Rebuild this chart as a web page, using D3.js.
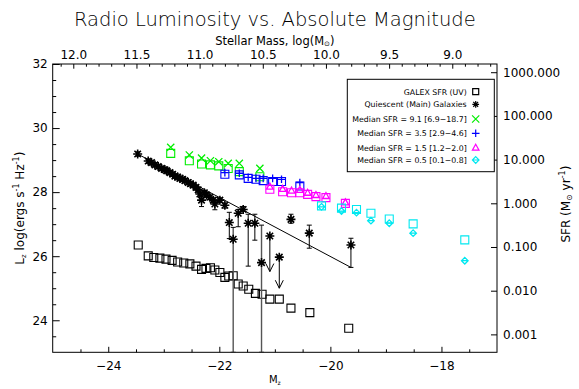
<!DOCTYPE html>
<html><head><meta charset="utf-8">
<script src="https://cdn.jsdelivr.net/npm/d3@7"></script>
<style>body{margin:0;background:#fff}svg{display:block}</style>
</head><body><svg id="c" width="579" height="389"></svg>
<script>
// ---------- data ----------
const xTicks = [-24, -22, -20, -18];
const yTicks = [24, 26, 28, 30, 32];
const massTicks = [12.0, 11.5, 11.0, 10.5, 10.0, 9.5, 9.0];
const sfrTicks = [1000, 100, 10, 1, 0.1, 0.01, 0.001];

// GALEX SFR (UV) - black open squares
const galexM = [-23.46,-23.28,-23.18,-23.07,-22.96,-22.85,-22.75,-22.64,-22.53,-22.42,-22.32,-22.24,-22.16,-22.08,-21.99,-21.90,-21.83,-21.75,-21.66,-21.57,-21.47,-21.35,-21.23,-21.09,-20.92,-20.71,-20.37,-19.67];
const galexL = [26.35,26.01,25.96,25.94,25.91,25.87,25.82,25.79,25.76,25.69,25.59,25.62,25.64,25.57,25.49,25.34,25.38,25.39,25.13,25.07,24.97,24.84,24.81,24.66,24.66,24.38,24.24,23.75];

// Quiescent (Main) galaxies - asterisks with error bars
const starM  = [-23.47,-23.28,-23.22,-23.16,-23.10,-23.04,-22.98,-22.95,-22.89,-22.84,-22.80,-22.75,-22.71,-22.66,-22.62,-22.56,-22.52,-22.47,-22.42,-22.38,-22.35,-22.32,-22.27,-22.23,-22.17,-22.11,-22.08,-21.99,-21.90,-21.82,-21.75,-21.66,-21.57,-21.48,-21.36,-21.24,-20.71,-20.38,-19.63];
const starL  = [29.19,28.97,28.92,28.85,28.80,28.74,28.70,28.67,28.61,28.56,28.50,28.47,28.43,28.40,28.36,28.30,28.26,28.22,28.15,28.07,27.94,27.75,27.98,27.91,27.84,27.75,27.63,27.75,27.59,27.05,26.53,27.34,27.46,27.03,27.03,25.80,27.15,26.72,26.35];
const starLo = [29.12,28.90,28.85,28.78,28.73,28.67,28.63,28.60,28.54,28.49,28.43,28.40,28.36,28.33,28.29,28.23,28.19,28.15,28.08,28.00,27.87,27.55,27.91,27.84,27.77,27.68,27.45,27.68,27.50,26.55,23.00,26.92,27.40,25.69,26.50,23.00,27.03,26.25,25.65];
const starHi = [29.26,29.04,28.99,28.92,28.87,28.81,28.77,28.74,28.68,28.63,28.57,28.54,28.50,28.47,28.43,28.37,28.33,28.29,28.22,28.14,28.01,27.85,28.05,27.98,27.91,27.82,27.70,27.82,27.66,27.37,26.90,27.46,27.55,27.31,27.31,26.97,27.31,26.97,26.56];

// upper limits (arrows)
const limM = [-21.09, -20.92];
const limL = [26.63, 25.97];
const limTo = [25.52, 25.00];

// fitted line
const fitM = [-23.47, -19.63];
const fitL = [29.19, 25.65];

// Median SFR groups: square (UV) and symbol (radio)
const greenM   = [-22.875,-22.54,-22.32,-22.16,-22.01,-21.84,-21.64,-21.27];
const greenSq  = [29.21,28.98,28.88,28.85,28.82,28.74,28.64,28.48];
const greenSym = [29.40,29.16,29.06,28.98,28.95,28.90,28.90,28.74];

const blueM   = [-21.90,-21.64,-21.48,-21.34,-21.21,-21.04,-20.88,-20.55];
const blueSq  = [28.56,28.54,28.43,28.40,28.36,28.33,28.33,28.19];
const blueSym = [28.61,28.59,28.46,28.43,28.43,28.43,28.40,28.30];

const magM   = [-21.09,-20.86,-20.70,-20.55,-20.41,-20.26,-20.08,-19.73];
const magSq  = [28.09,28.01,27.98,27.98,27.93,27.86,27.83,27.65];
const magSym = [28.17,28.10,28.05,28.07,27.98,27.91,27.88,27.68];

const cyanM   = [-20.16,-19.80,-19.53,-19.27,-18.94,-18.51,-17.58];
const cyanSq  = [27.57,27.50,27.46,27.34,27.16,27.01,26.51];
const cyanSym = [27.54,27.41,27.36,27.11,27.03,26.72,25.86];

const legendLabels = ["GALEX SFR (UV)", "Quiescent (Main) Galaxies", "Median SFR = 9.1 [6.9\u221218.7]", "Median SFR = 3.5 [2.9\u22124.6]", "Median SFR = 1.5 [1.2\u22122.0]", "Median SFR = 0.5 [0.1\u22120.8]"];
const legendSyms = ["square", "star", "x", "plus", "tri", "diamond"];
const legendColors = ["#000", "#000", "#00ee00", "#0000ff", "#ff00ff", "#00e8f0"];

// ---------- chart ----------
const svg = d3.select("#c");
const FONT = "'DejaVu Sans', sans-serif";
const L = 52.7, R = 497, T = 64, B = 352.3;
const x = d3.scaleLinear([-25, -17], [L, R]);
const y = d3.scaleLinear([23, 32], [B, T]);
const ySfr = d3.scaleLog([Math.pow(10, -3.41), Math.pow(10, 3.188)], [B, T]);
const xMass = d3.scaleLinear([12.163, 8.646], [L, R]);

function sym(type, cx, cy) {
  const p = d3.path();
  if (type === "square") { p.rect(cx - 4, cy - 4, 8, 8); }
  else if (type === "star") {
    const r = 4.5, d = r * 0.72;
    p.moveTo(cx - r, cy); p.lineTo(cx + r, cy);
    p.moveTo(cx, cy - r); p.lineTo(cx, cy + r);
    p.moveTo(cx - d, cy - d); p.lineTo(cx + d, cy + d);
    p.moveTo(cx - d, cy + d); p.lineTo(cx + d, cy - d);
  } else if (type === "x") {
    const r = 3.6;
    p.moveTo(cx - r, cy - r); p.lineTo(cx + r, cy + r);
    p.moveTo(cx - r, cy + r); p.lineTo(cx + r, cy - r);
  } else if (type === "plus") {
    const r = 3.8;
    p.moveTo(cx - r, cy); p.lineTo(cx + r, cy);
    p.moveTo(cx, cy - r); p.lineTo(cx, cy + r);
  } else if (type === "tri") {
    p.moveTo(cx, cy - 3.5); p.lineTo(cx + 3.3, cy + 2.5); p.lineTo(cx - 3.3, cy + 2.5); p.closePath();
  } else if (type === "diamond") {
    p.moveTo(cx, cy - 3.3); p.lineTo(cx + 3.3, cy); p.lineTo(cx, cy + 3.3); p.lineTo(cx - 3.3, cy); p.closePath();
    p.moveTo(cx - 3.3, cy); p.lineTo(cx + 3.3, cy);
  }
  return p.toString();
}

// title
svg.append("text").attr("x", (L + R) / 2).attr("y", 26).attr("text-anchor", "middle")
  .attr("font-family", FONT).attr("font-size", 19.5).attr("font-weight", 300).attr("fill", "#000")
  .text("Radio Luminosity vs. Absolute Magnitude");

// top axis label
const tl = svg.append("text").attr("x", (L + R) / 2).attr("y", 44.5).attr("text-anchor", "middle")
  .attr("font-family", FONT).attr("font-size", 11.5).attr("fill", "#000");
tl.append("tspan").text("Stellar Mass, log(M");
tl.append("tspan").attr("font-size", 7).attr("dy", 1.5).text("\u2299");
tl.append("tspan").attr("dy", -1.5).text(")");

// axes
function styleAxis(g) {
  g.attr("font-family", FONT).attr("font-size", 12);
  g.select(".domain").remove();
  g.selectAll("line").attr("stroke", "#000");
  g.selectAll("text").attr("fill", "#000");
}
const fmtNum = d => (d < 0 ? "\u2212" : "") + Math.abs(d);
svg.append("g").attr("transform", `translate(0,${B})`)
  .call(d3.axisBottom(x).tickValues(xTicks).tickFormat(fmtNum).tickSize(-5.5).tickPadding(9)).call(styleAxis);
svg.append("g").attr("transform", `translate(0,${B})`)
  .call(d3.axisBottom(x).tickValues(d3.range(-24.5, -17, 0.5).filter(v => !xTicks.includes(v))).tickFormat("").tickSize(-3)).call(styleAxis);
svg.append("g").attr("transform", `translate(${L},0)`)
  .call(d3.axisLeft(y).tickValues(yTicks).tickSize(-7).tickPadding(5)).call(styleAxis);
svg.append("g").attr("transform", `translate(${L},0)`)
  .call(d3.axisLeft(y).tickValues(d3.range(23.5, 32, 0.5).filter(v => !yTicks.includes(v))).tickFormat("").tickSize(-3.5)).call(styleAxis);
svg.append("g").attr("transform", `translate(0,${T})`)
  .call(d3.axisTop(xMass).tickValues(massTicks).tickFormat(d3.format(".1f")).tickSize(-4.7).tickPadding(5)).call(styleAxis);
const massMinor = d3.range(121, 86, -1).map(v => v / 10).filter(v => !massTicks.some(t => Math.abs(t - v) < 1e-6));
svg.append("g").attr("transform", `translate(0,${T})`)
  .call(d3.axisTop(xMass).tickValues(massMinor).tickFormat("").tickSize(-2.7)).call(styleAxis);
svg.append("g").attr("transform", `translate(${R},0)`)
  .call(d3.axisRight(ySfr).tickValues(sfrTicks).tickFormat(d3.format(".3f")).tickSize(-6).tickPadding(6)).call(styleAxis);

svg.append("rect").attr("x", L).attr("y", T).attr("width", R - L).attr("height", B - T)
  .attr("fill", "none").attr("stroke", "#000").attr("stroke-width", 1);

// axis titles
const yl = svg.append("text").attr("transform", `translate(24,${(T + B) / 2}) rotate(-90)`)
  .attr("text-anchor", "middle").attr("font-family", FONT).attr("font-size", 12).attr("fill", "#000");
yl.append("tspan").text("L");
yl.append("tspan").attr("font-size", 7).attr("dy", 2).text("z");
yl.append("tspan").attr("dy", -2).text(" log(ergs s");
yl.append("tspan").attr("font-size", 8).attr("dy", -5).text("-1");
yl.append("tspan").attr("dy", 5).text(" Hz");
yl.append("tspan").attr("font-size", 8).attr("dy", -5).text("-1");
yl.append("tspan").attr("dy", 5).text(")");

const yr = svg.append("text").attr("transform", `translate(570,${(T + B) / 2 - 4}) rotate(-90)`)
  .attr("text-anchor", "middle").attr("font-family", FONT).attr("font-size", 12).attr("fill", "#000");
yr.append("tspan").text("SFR (M");
yr.append("tspan").attr("font-size", 8).attr("dy", 2).text("\u2299");
yr.append("tspan").attr("dy", -2).text(" yr");
yr.append("tspan").attr("font-size", 8).attr("dy", -5).text("-1");
yr.append("tspan").attr("dy", 5).text(")");

const xl = svg.append("text").attr("x", (L + R) / 2).attr("y", 383).attr("text-anchor", "middle")
  .attr("font-family", FONT).attr("font-size", 10).attr("fill", "#000");
xl.append("tspan").text("M");
xl.append("tspan").attr("font-size", 6).attr("dy", 2).text("z");

// plot content clipped
svg.append("clipPath").attr("id", "clip").append("rect").attr("x", L).attr("y", T).attr("width", R - L).attr("height", B - T);
const plot = svg.append("g").attr("clip-path", "url(#clip)");

// fit line
plot.append("line").attr("x1", x(fitM[0])).attr("y1", y(fitL[0])).attr("x2", x(fitM[1])).attr("y2", y(fitL[1]))
  .attr("stroke", "#000").attr("stroke-width", 1);

// GALEX squares
galexM.forEach((m, i) => {
  plot.append("path").attr("d", sym("square", x(m), y(galexL[i]))).attr("fill", "none").attr("stroke", "#000").attr("stroke-width", 1.1);
});

// colored groups
function group(ms, sq, sy, type, color) {
  ms.forEach((m, i) => {
    plot.append("path").attr("d", sym("square", x(m), y(sq[i]))).attr("fill", "none").attr("stroke", color).attr("stroke-width", 1.1);
    plot.append("path").attr("d", sym(type, x(m), y(sy[i]))).attr("fill", "none").attr("stroke", color).attr("stroke-width", 1.3);
  });
}
group(greenM, greenSq, greenSym, "x", legendColors[2]);
group(blueM, blueSq, blueSym, "plus", legendColors[3]);
group(magM, magSq, magSym, "tri", legendColors[4]);
group(cyanM, cyanSq, cyanSym, "diamond", legendColors[5]);

// star error bars
starM.forEach((m, i) => {
  const long = starLo[i] <= 23.01;
  const cx = x(m);
  plot.append("line").attr("x1", cx).attr("x2", cx).attr("y1", y(starLo[i])).attr("y2", y(starHi[i]))
    .attr("stroke", long ? "#555" : "#000").attr("stroke-width", long ? 1.4 : 1);
  [starLo[i], starHi[i]].forEach(v => {
    plot.append("line").attr("x1", cx - 2.5).attr("x2", cx + 2.5).attr("y1", y(v)).attr("y2", y(v)).attr("stroke", "#000").attr("stroke-width", 1);
  });
});
// upper-limit arrows
limM.forEach((m, i) => {
  const cx = x(m), y0 = y(limL[i]), y1 = y(limTo[i]);
  plot.append("path").attr("d", `M${cx},${y0}L${cx},${y1}M${cx - 4},${y1 - 8}L${cx},${y1}L${cx + 4},${y1 - 8}`)
    .attr("fill", "none").attr("stroke", "#000").attr("stroke-width", 1);
});
// stars
starM.concat(limM).forEach((m, i) => {
  const l = i < starM.length ? starL[i] : limL[i - starM.length];
  plot.append("path").attr("d", sym("star", x(m), y(l))).attr("fill", "none").attr("stroke", "#000").attr("stroke-width", 1.6);
});

// legend
const lg = svg.append("g");
lg.append("rect").attr("x", 347.3).attr("y", 79.3).attr("width", 147).attr("height", 92.4)
  .attr("fill", "#fff").attr("stroke", "#000").attr("stroke-width", 1);
const rowY = [91.7, 104.3, 119, 133.3, 147.7, 160];
legendLabels.forEach((t, i) => {
  lg.append("text").attr("x", 466.7).attr("y", rowY[i] + 3).attr("text-anchor", "end")
    .attr("font-family", FONT).attr("font-size", 7.8).attr("fill", "#000").text(t);
  const s = legendSyms[i];
  const pth = lg.append("path").attr("fill", "none").attr("stroke", legendColors[i]).attr("stroke-width", s === "star" ? 1.6 : 1.2);
  if (s === "square") pth.attr("d", `M472.7,${rowY[i] - 3}h6v6h-6z`);
  else if (s === "star") pth.attr("d", sym("star", 475.7, rowY[i])).attr("transform", `translate(${475.7*0.25},${rowY[i]*0.25}) scale(0.75)`);
  else pth.attr("d", sym(s, 475.7, rowY[i]));
});
</script></body></html>
